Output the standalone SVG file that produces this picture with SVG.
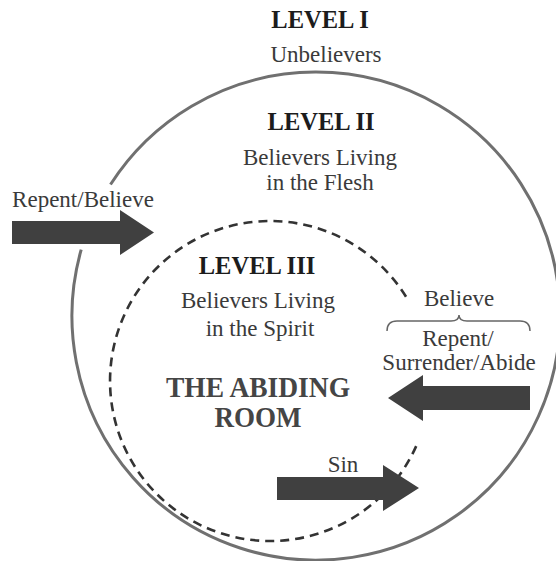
<svg xmlns="http://www.w3.org/2000/svg" width="556" height="561" viewBox="0 0 556 561">
<style>
.t{font-family:"Liberation Serif","Times New Roman",serif;font-size:23px;fill:#3a3a3a;text-anchor:middle}
.h{font-family:"Liberation Serif","Times New Roman",serif;font-size:24.5px;font-weight:bold;fill:#1c1c1c;text-anchor:middle}
.b{font-family:"Liberation Serif","Times New Roman",serif;font-size:30px;font-weight:bold;fill:#454545;text-anchor:middle}
.arrow{fill:#404040}
</style>
<rect width="556" height="561" fill="#ffffff"/>
<g id="connectors">
<path id="outer-circle" d="M110.5,184.5 A244,244 0 1 1 81.2,249.6" fill="none" stroke="#707070" stroke-width="3"/>
<path id="inner-circle" d="M416.2,446.1 A160,160 0 1 1 408.6,301" fill="none" stroke="#333333" stroke-width="2.6" stroke-dasharray="9,6"/>
<polygon id="arrow-repent-believe" class="arrow" points="12,221 120,221 120,210 154,232.5 120,255 120,244 12,244"/>
<polygon id="arrow-surrender" class="arrow" points="530,386 423,386 423,375 388,398 423,421 423,410 530,410"/>
<polygon id="arrow-sin" class="arrow" points="277,477 383,477 383,465 419,488 383,511 383,500 277,500"/>
<path id="brace" d="M387,331 Q387,321 397,321 L451,321 Q459,321 459,315 Q459,321 467,321 L520,321 Q530,321 530,331" fill="none" stroke="#666666" stroke-width="1.5"/>
</g>
<g id="level1">
<text class="h" x="320" y="28">LEVEL I</text>
<text class="t" x="326" y="62">Unbelievers</text>
</g>
<g id="level2">
<text class="h" x="321" y="130">LEVEL II</text>
<text class="t" x="320" y="165">Believers Living</text>
<text class="t" x="320" y="190">in the Flesh</text>
</g>
<g id="level3">
<text class="h" x="257" y="274">LEVEL III</text>
<text class="t" x="258" y="308">Believers Living</text>
<text class="t" x="260" y="336">in the Spirit</text>
</g>
<g id="abiding-room">
<text class="b" x="258" y="397" textLength="184" lengthAdjust="spacingAndGlyphs">THE ABIDING</text>
<text class="b" x="258" y="427" textLength="87" lengthAdjust="spacingAndGlyphs">ROOM</text>
</g>
<g id="label-repent-believe">
<text class="t" x="83" y="207">Repent/Believe</text>
</g>
<g id="label-believe">
<text class="t" x="459" y="306">Believe</text>
</g>
<g id="label-surrender">
<text class="t" x="458" y="346">Repent/</text>
<text class="t" x="459" y="370">Surrender/Abide</text>
</g>
<g id="label-sin">
<text class="t" x="343" y="472">Sin</text>
</g>
</svg>
